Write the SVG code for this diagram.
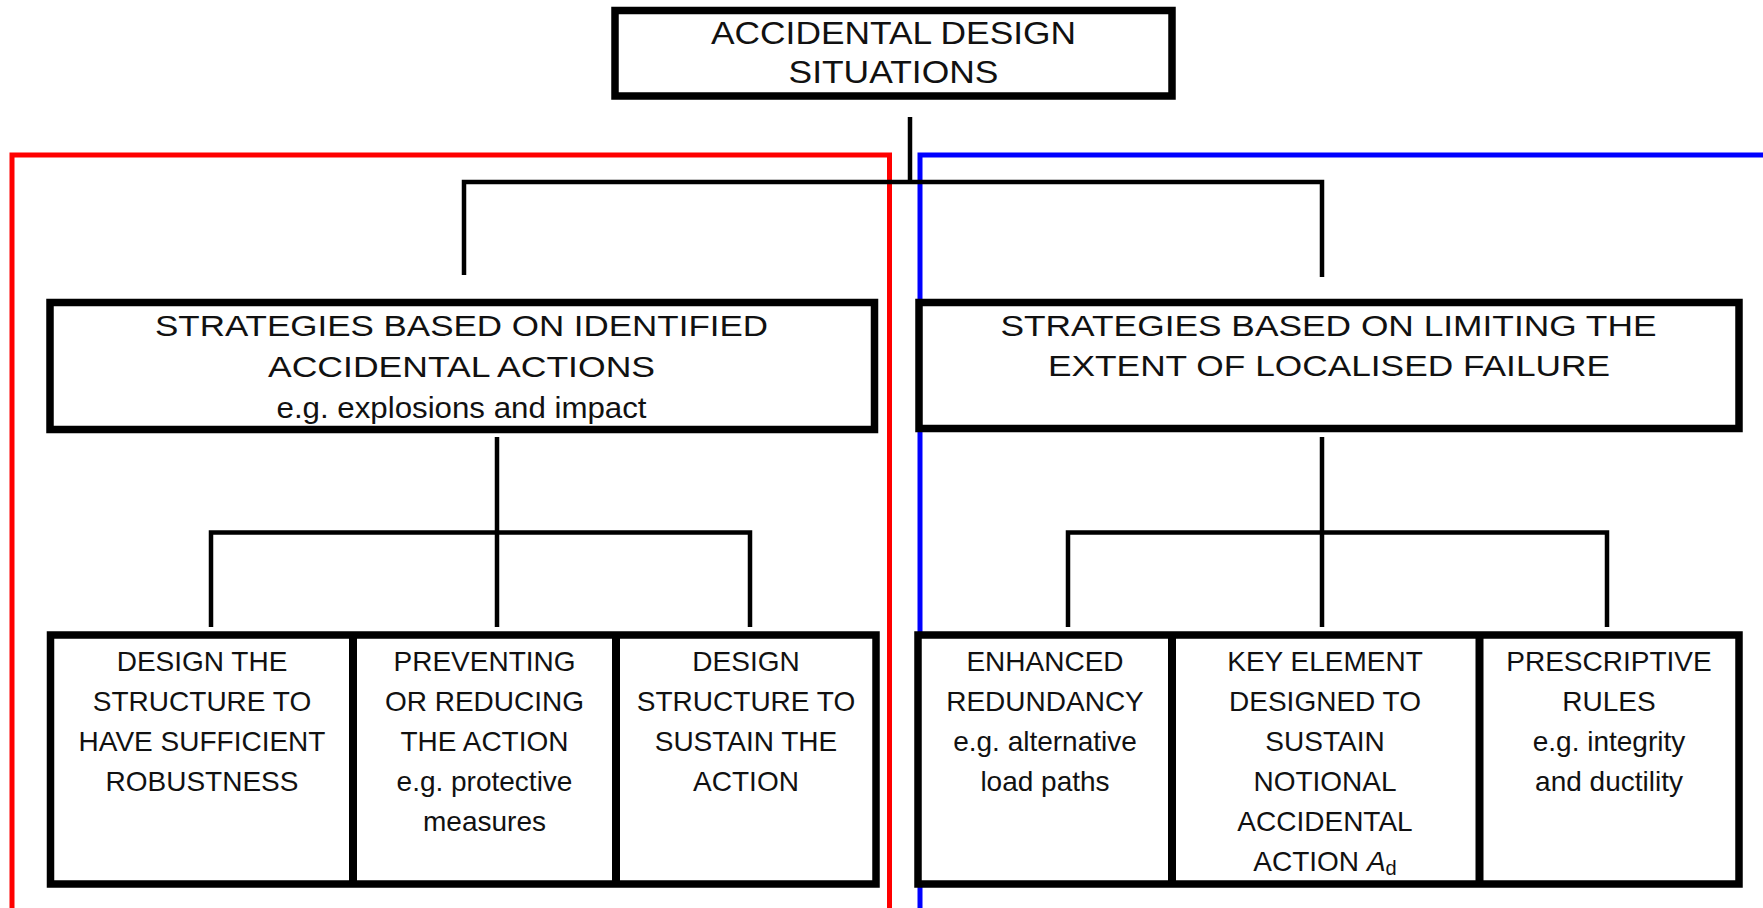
<svg xmlns="http://www.w3.org/2000/svg" width="1763" height="908" viewBox="0 0 1763 908">
  <style>
    .box { fill: #fff; stroke: #000; stroke-width: 7.5; stroke-linejoin: miter; }
    .div { stroke: #000; stroke-width: 8; }
    .link { fill: none; stroke: #000; stroke-width: 4.5; stroke-linejoin: miter; }
    .frame { fill: none; stroke-width: 5; stroke-linejoin: miter; }
    .head { font-family: "Liberation Sans", Arial, sans-serif; font-size: 30px; fill: #111; text-anchor: middle; }
    .top { font-family: "Liberation Sans", Arial, sans-serif; font-size: 31px; fill: #111; text-anchor: middle; }
    .cell { font-family: "Liberation Sans", Arial, sans-serif; font-size: 28px; fill: #111; text-anchor: middle; }
  </style>
  <rect width="1763" height="908" fill="#fff"/>

  <!-- grouping frames -->
  <g id="frames">
    <path class="frame" stroke="#ff0000" d="M12,915 V155 H889.5 V915"/>
    <path class="frame" stroke="#0000ff" d="M920,915 V155 H1770"/>
  </g>

  <!-- tree connectors -->
  <g id="connectors">
    <path class="link" d="M910,117 V182"/>
    <path class="link" d="M464,275 V182 H1322 V277"/>
    <path class="link" d="M497,437 V627"/>
    <path class="link" d="M211,627 V532.5 H750 V627"/>
    <path class="link" d="M1322,437 V627"/>
    <path class="link" d="M1068,627 V532.5 H1607 V627"/>
  </g>

  <!-- root -->
  <g id="node-root">
    <rect class="box" x="615" y="10.5" width="557" height="85.5"/>
    <text class="top" x="893.5" y="44" textLength="365" lengthAdjust="spacingAndGlyphs">ACCIDENTAL DESIGN</text>
    <text class="top" x="893.5" y="83" textLength="210" lengthAdjust="spacingAndGlyphs">SITUATIONS</text>
  </g>

  <!-- identified accidental actions -->
  <g id="node-identified">
    <rect class="box" x="50" y="302.5" width="824.5" height="127"/>
    <text class="head" x="461.5" y="336" textLength="613" lengthAdjust="spacingAndGlyphs">STRATEGIES BASED ON IDENTIFIED</text>
    <text class="head" x="461.5" y="377" textLength="387" lengthAdjust="spacingAndGlyphs">ACCIDENTAL ACTIONS</text>
    <text class="head" x="461.5" y="418" textLength="370" lengthAdjust="spacingAndGlyphs">e.g. explosions and impact</text>
  </g>

  <!-- limiting localised failure -->
  <g id="node-limiting">
    <rect class="box" x="919" y="302.5" width="820" height="126"/>
    <text class="head" x="1328.5" y="336" textLength="656" lengthAdjust="spacingAndGlyphs">STRATEGIES BASED ON LIMITING THE</text>
    <text class="head" x="1329" y="376" textLength="562" lengthAdjust="spacingAndGlyphs">EXTENT OF LOCALISED FAILURE</text>
  </g>

  <!-- left row of strategies -->
  <g id="node-left-row">
    <rect class="box" x="50.5" y="635" width="825.5" height="249"/>
    <line class="div" x1="353" y1="635" x2="353" y2="884"/>
    <line class="div" x1="616" y1="635" x2="616" y2="884"/>
  </g>
  <g id="node-robustness">
    <text class="cell" x="202" y="671">DESIGN THE</text>
    <text class="cell" x="202" y="711">STRUCTURE TO</text>
    <text class="cell" x="202" y="751">HAVE SUFFICIENT</text>
    <text class="cell" x="202" y="791">ROBUSTNESS</text>
  </g>
  <g id="node-preventing">
    <text class="cell" x="484.5" y="671">PREVENTING</text>
    <text class="cell" x="484.5" y="711">OR REDUCING</text>
    <text class="cell" x="484.5" y="751">THE ACTION</text>
    <text class="cell" x="484.5" y="791">e.g. protective</text>
    <text class="cell" x="484.5" y="831">measures</text>
  </g>
  <g id="node-sustain">
    <text class="cell" x="746" y="671">DESIGN</text>
    <text class="cell" x="746" y="711">STRUCTURE TO</text>
    <text class="cell" x="746" y="751">SUSTAIN THE</text>
    <text class="cell" x="746" y="791">ACTION</text>
  </g>

  <!-- right row of strategies -->
  <g id="node-right-row">
    <rect class="box" x="918" y="635" width="821" height="249"/>
    <line class="div" x1="1172" y1="635" x2="1172" y2="884"/>
    <line class="div" x1="1479.5" y1="635" x2="1479.5" y2="884"/>
  </g>
  <g id="node-redundancy">
    <text class="cell" x="1045" y="671">ENHANCED</text>
    <text class="cell" x="1045" y="711">REDUNDANCY</text>
    <text class="cell" x="1045" y="751">e.g. alternative</text>
    <text class="cell" x="1045" y="791">load paths</text>
  </g>
  <g id="node-key-element">
    <text class="cell" x="1325" y="671">KEY ELEMENT</text>
    <text class="cell" x="1325" y="711">DESIGNED TO</text>
    <text class="cell" x="1325" y="751">SUSTAIN</text>
    <text class="cell" x="1325" y="791">NOTIONAL</text>
    <text class="cell" x="1325" y="831">ACCIDENTAL</text>
    <text class="cell" x="1325" y="871">ACTION <tspan font-style="italic">A</tspan><tspan font-size="20" dy="4">d</tspan></text>
  </g>
  <g id="node-prescriptive">
    <text class="cell" x="1609" y="671">PRESCRIPTIVE</text>
    <text class="cell" x="1609" y="711">RULES</text>
    <text class="cell" x="1609" y="751">e.g. integrity</text>
    <text class="cell" x="1609" y="791">and ductility</text>
  </g>
</svg>
